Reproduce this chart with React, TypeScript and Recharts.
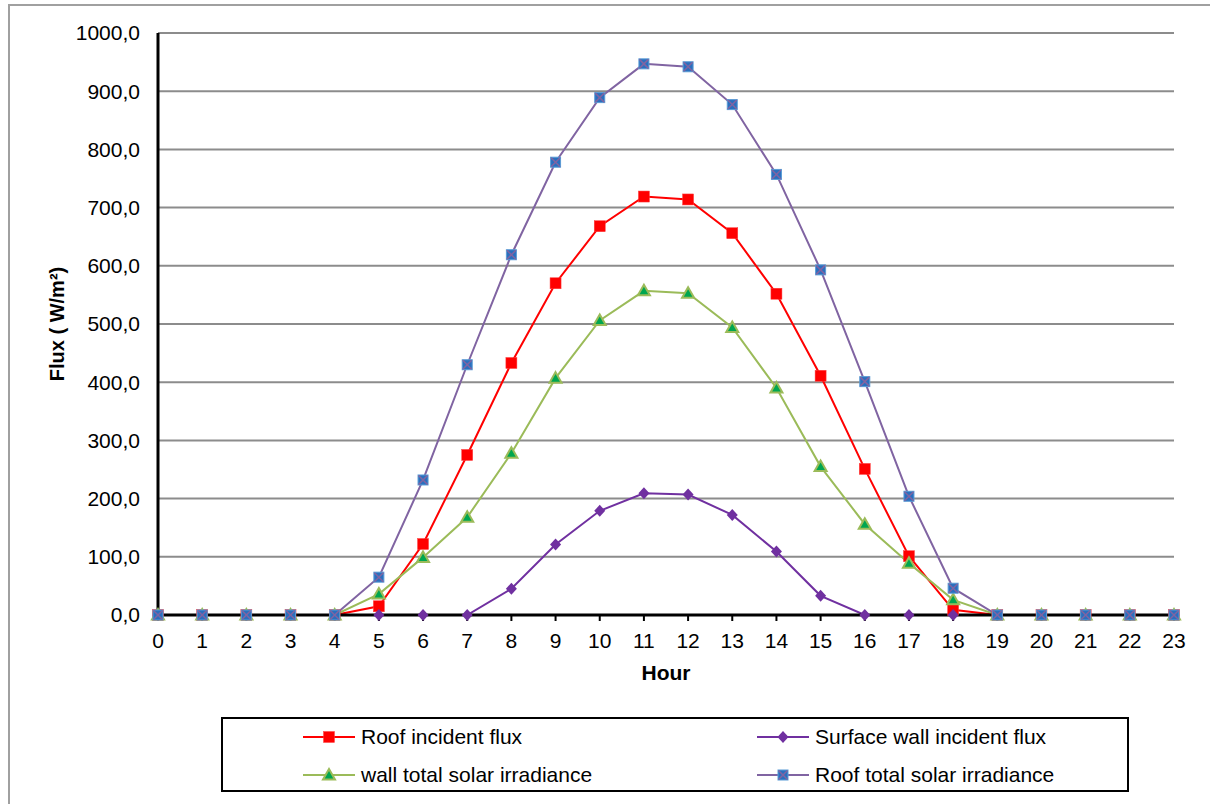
import React from 'react';
import { LineChart, Line, XAxis, YAxis, CartesianGrid } from 'recharts';

const hours = [0, 1, 2, 3, 4, 5, 6, 7, 8, 9, 10, 11, 12, 13, 14, 15, 16, 17, 18, 19, 20, 21, 22, 23];
const fluxTicks = [0, 100, 200, 300, 400, 500, 600, 700, 800, 900, 1000];

const roofIncident = [0, 0, 0, 0, 0, 15, 122, 275, 433, 570, 668, 719, 714, 656, 552, 411, 251, 101, 9, 0, 0, 0, 0, 0];
const surfaceWall = [0, 0, 0, 0, 0, 0, 0, 0, 45, 121, 179, 209, 207, 172, 109, 33, 0, 0, 0, 0, 0, 0, 0, 0];
const wallTotal = [0, 0, 0, 0, 0, 36, 99, 168, 278, 407, 506, 557, 553, 494, 390, 255, 156, 89, 26, 0, 0, 0, 0, 0];
const roofTotal = [0, 0, 0, 0, 0, 65, 232, 430, 619, 778, 889, 947, 942, 877, 757, 593, 401, 204, 46, 0, 0, 0, 0, 0];

const data = hours.map((h, i) => ({
  hour: h,
  roofIncident: roofIncident[i],
  surfaceWall: surfaceWall[i],
  wallTotal: wallTotal[i],
  roofTotal: roofTotal[i],
}));

type Kind = 'square' | 'diamond' | 'triangle' | 'xsquare';

const series: { key: string; name: string; color: string; kind: Kind }[] = [
  { key: 'roofIncident', name: 'Roof incident flux', color: '#FF0000', kind: 'square' },
  { key: 'surfaceWall', name: 'Surface wall incident flux', color: '#7030A0', kind: 'diamond' },
  { key: 'wallTotal', name: 'wall total solar irradiance', color: '#9BBB59', kind: 'triangle' },
  { key: 'roofTotal', name: 'Roof total solar irradiance', color: '#8064A2', kind: 'xsquare' },
];

const FONT = '"Liberation Sans", Arial, sans-serif';

const Marker = ({ kind, cx, cy }: { kind: Kind; cx: number; cy: number }) => {
  if (cx == null || cy == null) return null;
  if (kind === 'square') {
    return <rect x={cx - 5.5} y={cy - 5.5} width={11} height={11} fill="#FF0000" stroke="#FF4040" strokeWidth={0.5} />;
  }
  if (kind === 'diamond') {
    return <polygon points={`${cx},${cy - 6} ${cx + 5.5},${cy} ${cx},${cy + 6} ${cx - 5.5},${cy}`} fill="#7030A0" />;
  }
  if (kind === 'triangle') {
    return (
      <polygon
        points={`${cx},${cy - 6} ${cx + 6},${cy + 4.5} ${cx - 6},${cy + 4.5}`}
        fill="#00A650"
        stroke="#9BBB59"
        strokeWidth={2}
      />
    );
  }
  return (
    <g>
      <rect x={cx - 5} y={cy - 5} width={10} height={10} fill="#2A6FBE" stroke="#5B9BD5" strokeWidth={1} />
      <line x1={cx - 4.5} y1={cy - 4.5} x2={cx + 4.5} y2={cy + 4.5} stroke="#8064A2" strokeWidth={1.5} />
      <line x1={cx - 4.5} y1={cy + 4.5} x2={cx + 4.5} y2={cy - 4.5} stroke="#8064A2" strokeWidth={1.5} />
    </g>
  );
};

const fmt = (v: number) => v.toFixed(1).replace('.', ',');

const LegendItem = ({ s, left, top }: { s: (typeof series)[number]; left: number; top: number }) => (
  <div style={{ position: 'absolute', left, top, display: 'flex', alignItems: 'center', height: 24 }}>
    <svg width={54} height={16} style={{ display: 'block' }}>
      <line x1={0} y1={8} x2={52} y2={8} stroke={s.color} strokeWidth={2} />
      <Marker kind={s.kind} cx={26} cy={8} />
    </svg>
    <span style={{ marginLeft: 4, fontSize: 21, fontFamily: FONT, color: '#000', whiteSpace: 'nowrap' }}>{s.name}</span>
  </div>
);

export default function App() {
  return (
    <div style={{ position: 'fixed', left: 0, top: 0, width: 1210, height: 804, overflow: 'hidden', background: '#fff' }}>
      <div
        style={{
          position: 'absolute',
          left: 8,
          top: 4,
          width: 1400,
          height: 1000,
          borderLeft: '2px solid #A0A0A0',
          borderTop: '2px solid #A0A0A0',
        }}
      />
      <div style={{ position: 'absolute', left: 0, top: 0 }}>
        <LineChart width={1210} height={804} data={data} margin={{ top: 33, right: 36, bottom: 119, left: 0 }}>
          <CartesianGrid horizontal vertical={false} stroke="#8C8C8C" strokeWidth={2} />
          <XAxis
            dataKey="hour"
            type="number"
            domain={[0, 23]}
            ticks={hours}
            interval={0}
            height={70}
            axisLine={{ stroke: '#000', strokeWidth: 3 }}
            tickLine={{ stroke: '#000', strokeWidth: 2 }}
            tickSize={6}
            tickMargin={12}
            tick={{ fill: '#000', fontSize: 21, fontFamily: FONT }}
            label={{
              value: 'Hour',
              position: 'insideBottom',
              offset: 5,
              style: { fontSize: 21, fontWeight: 'bold', fill: '#000', fontFamily: FONT },
            }}
          />
          <XAxis xAxisId="top" dataKey="hour" type="number" domain={[0, 23]} orientation="top" height={0} tick={false} tickLine={false} axisLine={{ stroke: '#000', strokeWidth: 3 }} />
          <YAxis
            domain={[0, 1000]}
            ticks={fluxTicks}
            interval={0}
            width={158}
            axisLine={{ stroke: '#000', strokeWidth: 3 }}
            tickLine={false}
            tickSize={6}
            tickMargin={12}
            tickFormatter={fmt}
            tick={{ fill: '#000', fontSize: 21, fontFamily: FONT }}
            label={{
              value: 'Flux ( W/m²)',
              angle: -90,
              position: 'insideLeft',
              offset: 57,
              style: { textAnchor: 'middle', fontSize: 20, fontWeight: 'bold', fill: '#000', fontFamily: FONT },
            }}
          />
          <YAxis yAxisId="right" orientation="right" width={0} domain={[0, 1000]} tick={false} tickLine={false} axisLine={{ stroke: '#000', strokeWidth: 3 }} />
          {series.map((s) => (
            <Line
              key={s.key}
              dataKey={s.key}
              name={s.name}
              type="linear"
              stroke={s.color}
              strokeWidth={2}
              isAnimationActive={false}
              dot={(p: any) => <Marker key={`${s.key}-${p.index}`} kind={s.kind} cx={p.cx} cy={p.cy} />}
              activeDot={false}
            />
          ))}
        </LineChart>
      </div>
      <div
        style={{
          position: 'absolute',
          left: 221,
          top: 717,
          width: 904,
          height: 71,
          border: '2px solid #000',
        }}
      >
        <LegendItem s={series[0]} left={80} top={6} />
        <LegendItem s={series[1]} left={534} top={6} />
        <LegendItem s={series[2]} left={80} top={44} />
        <LegendItem s={series[3]} left={534} top={44} />
      </div>
    </div>
  );
}
